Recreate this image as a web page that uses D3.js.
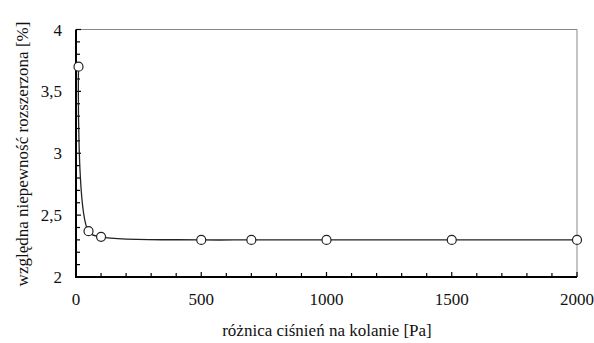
<!DOCTYPE html>
<html><head><meta charset="utf-8">
<script src="https://cdn.jsdelivr.net/npm/d3@7"></script>
</head><body style="margin:0">
<svg id="s" width="594" height="343" style="display:block;background:#fff"></svg>
<script>
const pressure = [10, 50, 100, 500, 700, 1000, 1500, 2000];
const uncertainty = [3.70, 2.37, 2.325, 2.30, 2.30, 2.30, 2.30, 2.30];
const xTicks = [0, 500, 1000, 1500, 2000];
const yTicks = [2, 2.5, 3, 3.5, 4];
const xTitle = "różnica ciśnień na kolanie [Pa]";
const yTitle = "względna niepewność rozszerzona [%]";

const W = 594, H = 343;
const m = {l: 76, r: 17, t: 29.5, b: 66};
const svg = d3.select("#s");
const x = d3.scaleLinear().domain([0, 2000]).range([m.l, W - m.r]);
const y = d3.scaleLinear().domain([2, 4]).range([H - m.b, m.t]);
const fmt = d => String(d).replace(".", ",");
const txt = sel => sel
  .style("font-family", '"Liberation Serif", "Times New Roman", serif', "important")
  .style("font-size", "17px", "important")
  .style("fill", "#111");

// top & right frame
svg.append("path").attr("d", `M${x(0)},${y(4)}H${x(2000)}V${y(2)}`)
  .attr("fill", "none").attr("stroke", "#888").attr("stroke-width", 1);

// minor/major ticks (inside)
svg.append("g").selectAll("line").data(d3.range(0, 2001, 100)).join("line")
  .attr("x1", d => x(d)).attr("x2", d => x(d))
  .attr("y1", y(2)).attr("y2", d => y(2) - (d % 500 === 0 ? 5 : 4))
  .attr("stroke", "#000").attr("stroke-width", 1.2);
svg.append("g").selectAll("line").data(d3.range(20, 41).map(d => d / 10)).join("line")
  .attr("y1", d => y(d)).attr("y2", d => y(d))
  .attr("x1", x(0)).attr("x2", (d, i) => x(0) + (i % 5 === 0 ? 5 : 4))
  .attr("stroke", "#000").attr("stroke-width", 1.2);

// axes lines
svg.append("path").attr("d", `M${x(0)},${y(4)}V${y(2)}H${x(2000)}`)
  .attr("fill", "none").attr("stroke", "#000").attr("stroke-width", 2);

// tick labels
svg.append("g").selectAll("text").data(xTicks).join("text")
  .attr("x", d => x(d)).attr("y", 305).style("text-anchor", "middle")
  .call(txt).text(d => d);
svg.append("g").selectAll("text").data(yTicks).join("text")
  .attr("x", 62).attr("y", d => y(d) + 6).style("text-anchor", "end")
  .call(txt).text(fmt);

// titles
svg.append("text").attr("x", 327).attr("y", 336).style("text-anchor", "middle")
  .call(txt).text(xTitle);
svg.append("text").attr("transform", `translate(28,154) rotate(-90)`)
  .style("text-anchor", "middle").call(txt).text(yTitle);

// line
const data = pressure.map((p, i) => [p, uncertainty[i]]);
svg.append("path").datum(data)
  .attr("d", d3.line().x(d => x(d[0])).y(d => y(d[1])).curve(d3.curveCatmullRom.alpha(0.5)))
  .attr("fill", "none").attr("stroke", "#222").attr("stroke-width", 1.3);
svg.append("g").selectAll("circle").data(data).join("circle")
  .attr("cx", d => x(d[0])).attr("cy", d => y(d[1])).attr("r", 4.5)
  .attr("fill", "#fff").attr("stroke", "#222").attr("stroke-width", 1.2);
</script></body></html>
